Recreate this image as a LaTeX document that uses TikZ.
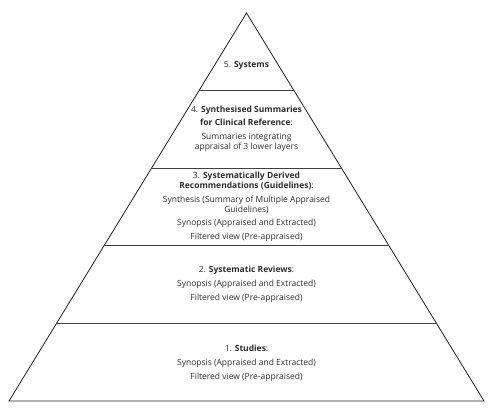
\documentclass[tikz,border=0pt]{standalone}
\usepackage{fontspec}
\setmainfont{Open Sans}
\usetikzlibrary{calc}
\definecolor{pyrline}{RGB}{30,30,30}
\definecolor{pyrtext}{RGB}{45,45,45}
\tikzset{
  layertext/.style={align=center, text=pyrtext, font=\fontsize{8.5}{9.8}\selectfont, inner sep=0pt},
  layerline/.style={draw=pyrline!85, line width=1.1pt}
}

\begin{document}
\begin{tikzpicture}[x=1pt,y=-1pt]
  \useasboundingbox (0,0) rectangle (494,408);
  % pyramid outline
  \coordinate (apex) at (246.5,13);
  \coordinate (bl) at (9,401);
  \coordinate (br) at (484,401);
  \draw[pyrline, line width=0.8pt] (apex) -- (bl) -- (br) -- cycle;
  % layer separators
  \foreach \t in {0.2,0.4,0.6,0.8}
    \draw[layerline] ($(apex)!\t!(bl)$) -- ($(apex)!\t!(br)$);
  % layer labels, top to bottom
  \node[layertext] (l5) at (246.5,65) {5. \textbf{Systems}};
  \node[layertext] (l4) at (246.5,128.5) {4. \textbf{Synthesised Summaries}\\[4pt]
    \textbf{for Clinical Reference}:\\[4pt]
    Summaries integrating\\
    appraisal of 3 lower layers};
  \node[layertext] (l3) at (246.5,207) {3. \textbf{Systematically Derived}\\
    \textbf{Recommendations (Guidelines)}:\\[4pt]
    Synthesis (Summary of Multiple Appraised\\
    Guidelines)\\[4pt]
    Synopsis (Appraised and Extracted)\\[4pt]
    Filtered view (Pre-appraised)};
  \node[layertext] (l2) at (246.5,284.5) {2. \textbf{Systematic Reviews}:\\[4pt]
    Synopsis (Appraised and Extracted)\\[4pt]
    Filtered view (Pre-appraised)};
  \node[layertext] (l1) at (246.5,363) {1. \textbf{Studies}:\\[4pt]
    Synopsis (Appraised and Extracted)\\[4pt]
    Filtered view (Pre-appraised)};
\end{tikzpicture}
\end{document}
